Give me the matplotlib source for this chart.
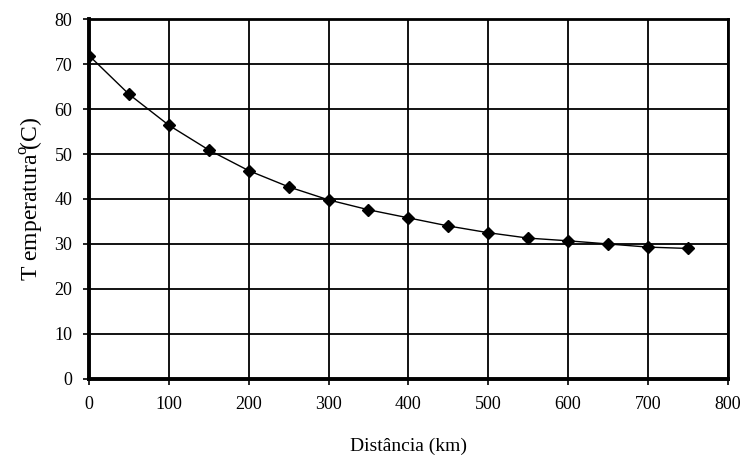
import matplotlib
matplotlib.use('Agg')
import matplotlib.pyplot as plt
import numpy as np

distancia = [0, 50, 100, 150, 200, 250, 300, 350, 400, 450, 500, 550, 600, 650, 700, 750]
temperatura = [71.9, 63.3, 56.4, 50.9, 46.3, 42.7, 39.8, 37.6, 35.8, 34.0, 32.5, 31.3, 30.7, 30.0, 29.3, 29.0]

plt.rcParams['font.family'] = ['Liberation Serif', 'DejaVu Serif']
plt.rcParams['mathtext.fontset'] = 'custom'
plt.rcParams['mathtext.rm'] = 'Liberation Serif'

fig = plt.figure(figsize=(7.48, 4.66), dpi=100)
ax = fig.add_axes([0.119, 0.187, 0.854, 0.772])

ax.plot(distancia, temperatura, '-', color='black', lw=1.0)
ax.plot(distancia, temperatura, 'D', color='black', ms=6)

ax.set_xlim(0, 800)
ax.set_ylim(0, 80)
ax.set_xticks(np.arange(0, 801, 100))
ax.set_yticks(np.arange(0, 81, 10))
ax.grid(True, color='black', lw=1.3)
ax.set_axisbelow(True)

for side in ['left', 'bottom']:
    ax.spines[side].set_linewidth(2.8)
for side in ['top', 'right']:
    ax.spines[side].set_linewidth(2.0)

ax.tick_params(direction='out', length=4, width=1.2, labelsize=13, pad=8)
ax.set_xlabel('Distância (km)', fontsize=14, labelpad=18)
ax.set_ylabel('T emperatura$^{\\mathrm{o}}\\!$(C)', fontsize=17, labelpad=6)

plt.savefig('out.png', dpi=100, facecolor='w')
plt.close()
